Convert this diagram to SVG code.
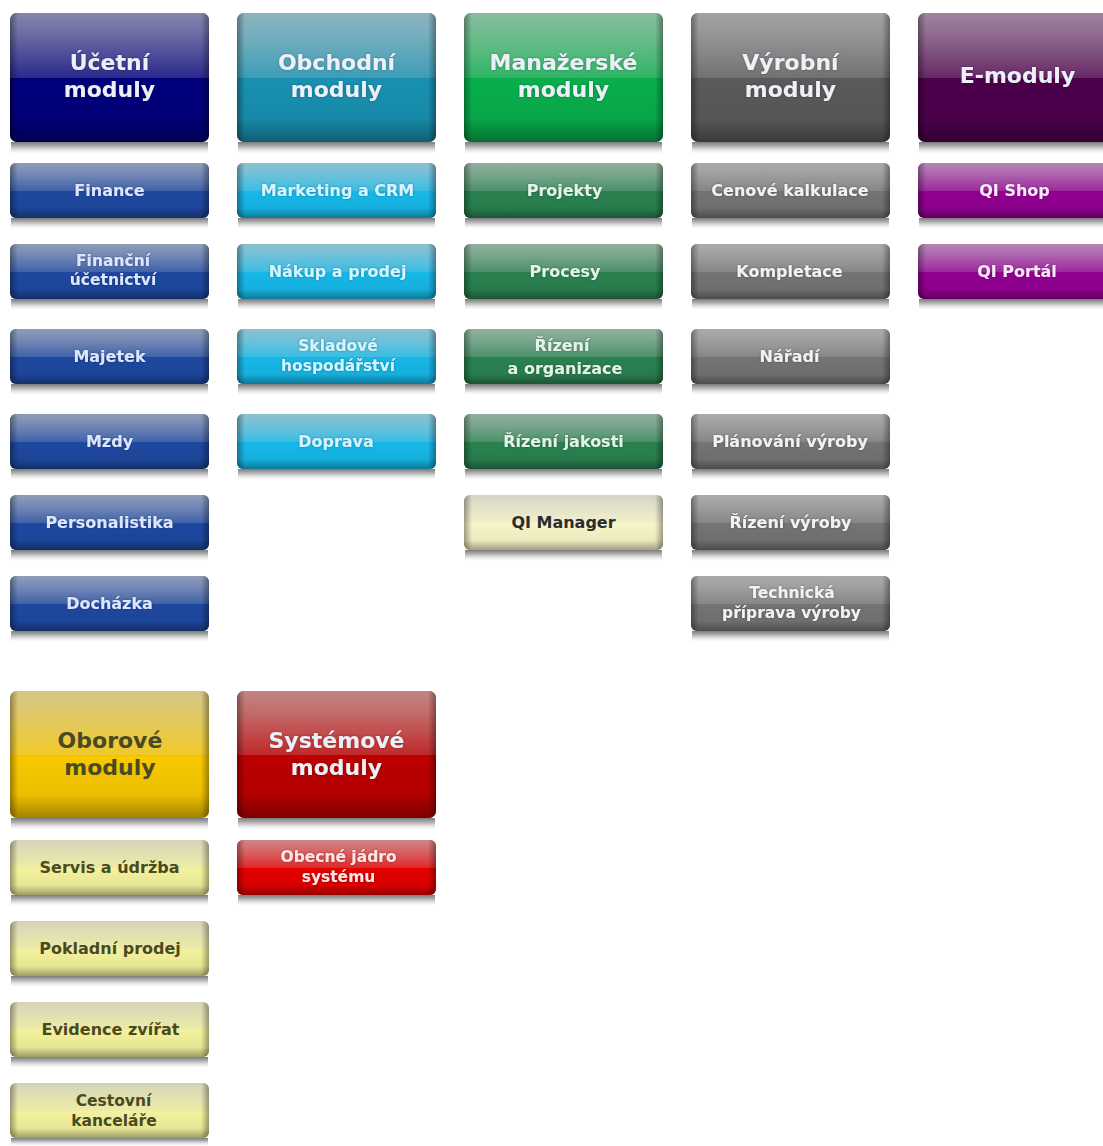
<svg xmlns="http://www.w3.org/2000/svg" width="1103" height="1146" viewBox="0 0 1103 1146">
<defs>
<linearGradient id="gloss" x1="0" y1="0" x2="0" y2="1">
<stop offset="0" stop-color="#c4c4c4" stop-opacity="0.68"/>
<stop offset="0.15" stop-color="#c8c8c8" stop-opacity="0.55"/>
<stop offset="0.5" stop-color="#d0d0d0" stop-opacity="0.2"/>
<stop offset="0.51" stop-color="#000" stop-opacity="0"/>
<stop offset="0.82" stop-color="#000" stop-opacity="0.05"/>
<stop offset="1" stop-color="#000" stop-opacity="0.35"/>
</linearGradient>
<linearGradient id="edge" x1="0" y1="0" x2="1" y2="0">
<stop offset="0" stop-color="#000" stop-opacity="0.35"/>
<stop offset="0.04" stop-color="#000" stop-opacity="0"/>
<stop offset="0.96" stop-color="#000" stop-opacity="0"/>
<stop offset="1" stop-color="#000" stop-opacity="0.35"/>
</linearGradient>
<linearGradient id="refl" x1="0" y1="0" x2="0" y2="1">
<stop offset="0" stop-color="#7a7a7a" stop-opacity="1"/>
<stop offset="0.35" stop-color="#a0a0a0" stop-opacity="0.85"/>
<stop offset="1" stop-color="#e0e0e0" stop-opacity="0"/>
</linearGradient>
<filter id="glow" x="-10%" y="-30%" width="120%" height="160%">
<feGaussianBlur in="SourceAlpha" stdDeviation="1.2" result="b"/>
<feFlood flood-color="#000" flood-opacity="0.35"/>
<feComposite in2="b" operator="in" result="s"/>
<feMerge><feMergeNode in="s"/><feMergeNode in="SourceGraphic"/></feMerge>
</filter>
</defs>
<style>
text{font-family:"DejaVu Sans",Verdana,sans-serif;font-weight:bold;text-anchor:middle}
.h{font-size:22px;fill:#eef0f8;filter:url(#glow)}
.s{font-size:16px}
.t{font-size:15.5px}
.g{fill:url(#gloss)}
.e{fill:url(#edge)}
.r{fill:url(#refl)}
.navyH{fill:#00007c}
.blue{fill:#1e48a0}
.tealH{fill:#1890b0}
.cyan{fill:#16b8e8}
.greenH{fill:#08ae4c}
.green{fill:#2a8250}
.grayH{fill:#5a5a5a}
.gray{fill:#747474}
.purpH{fill:#4c004c}
.purp{fill:#920092}
.yelH{fill:#f8c800}
.yel{fill:#f4f29c}
.redH{fill:#bc0000}
.red{fill:#e40000}
.tb{fill:#dde6ff;filter:url(#glow)}
.tc{fill:#d4f4ff;filter:url(#glow)}
.tg{fill:#e4f2e8;filter:url(#glow)}
.tgr{fill:#f2f2f2;filter:url(#glow)}
.tp{fill:#f8e8f8;filter:url(#glow)}
.ty{fill:#4a4a22}
.tr{fill:#ffe6e6;filter:url(#glow)}
</style>

<g id="hdr-ucetni">
<rect class="r" x="11" y="142" width="197" height="12"/>
<rect class="navyH" x="10" y="13" width="199" height="129" rx="7"/>
<rect class="g" x="10" y="13" width="199" height="129" rx="7"/>
<rect class="e" x="10" y="13" width="199" height="129" rx="7"/>
<text class="h" x="109.5" y="70">Účetní</text>
<text class="h" x="109.5" y="97">moduly</text>
</g>
<g id="hdr-obchodni">
<rect class="r" x="238" y="142" width="197" height="12"/>
<rect class="tealH" x="237" y="13" width="199" height="129" rx="7"/>
<rect class="g" x="237" y="13" width="199" height="129" rx="7"/>
<rect class="e" x="237" y="13" width="199" height="129" rx="7"/>
<text class="h" x="336.5" y="70">Obchodní</text>
<text class="h" x="336.5" y="97">moduly</text>
</g>
<g id="hdr-manazerske">
<rect class="r" x="465" y="142" width="197" height="12"/>
<rect class="greenH" x="464" y="13" width="199" height="129" rx="7"/>
<rect class="g" x="464" y="13" width="199" height="129" rx="7"/>
<rect class="e" x="464" y="13" width="199" height="129" rx="7"/>
<text class="h" x="563.5" y="70">Manažerské</text>
<text class="h" x="563.5" y="97">moduly</text>
</g>
<g id="hdr-vyrobni">
<rect class="r" x="692" y="142" width="197" height="12"/>
<rect class="grayH" x="691" y="13" width="199" height="129" rx="7"/>
<rect class="g" x="691" y="13" width="199" height="129" rx="7"/>
<rect class="e" x="691" y="13" width="199" height="129" rx="7"/>
<text class="h" x="790.5" y="70">Výrobní</text>
<text class="h" x="790.5" y="97">moduly</text>
</g>
<g id="hdr-emoduly">
<rect class="r" x="919" y="142" width="197" height="12"/>
<rect class="purpH" x="918" y="13" width="199" height="129" rx="7"/>
<rect class="g" x="918" y="13" width="199" height="129" rx="7"/>
<rect class="e" x="918" y="13" width="199" height="129" rx="7"/>
<text class="h" x="1017.5" y="83">E-moduly</text>
</g>

<!-- column 1 -->
<g id="n-finance">
<rect class="r" x="11" y="218" width="197" height="11"/>
<rect class="blue" x="10" y="163" width="199" height="55" rx="6"/>
<rect class="g" x="10" y="163" width="199" height="55" rx="6"/>
<rect class="e" x="10" y="163" width="199" height="55" rx="6"/>
<text class="s tb" x="109.5" y="196">Finance</text>
</g>
<g id="n-financni-ucetnictvi">
<rect class="r" x="11" y="299" width="197" height="11"/>
<rect class="blue" x="10" y="244" width="199" height="55" rx="6"/>
<rect class="g" x="10" y="244" width="199" height="55" rx="6"/>
<rect class="e" x="10" y="244" width="199" height="55" rx="6"/>
<text class="t tb" x="113" y="266">Finanční</text>
<text class="t tb" x="113" y="285">účetnictví</text>
</g>
<g id="n-majetek">
<rect class="r" x="11" y="384" width="197" height="11"/>
<rect class="blue" x="10" y="329" width="199" height="55" rx="6"/>
<rect class="g" x="10" y="329" width="199" height="55" rx="6"/>
<rect class="e" x="10" y="329" width="199" height="55" rx="6"/>
<text class="s tb" x="109.5" y="362">Majetek</text>
</g>
<g id="n-mzdy">
<rect class="r" x="11" y="469" width="197" height="11"/>
<rect class="blue" x="10" y="414" width="199" height="55" rx="6"/>
<rect class="g" x="10" y="414" width="199" height="55" rx="6"/>
<rect class="e" x="10" y="414" width="199" height="55" rx="6"/>
<text class="s tb" x="109.5" y="447">Mzdy</text>
</g>
<g id="n-personalistika">
<rect class="r" x="11" y="550" width="197" height="11"/>
<rect class="blue" x="10" y="495" width="199" height="55" rx="6"/>
<rect class="g" x="10" y="495" width="199" height="55" rx="6"/>
<rect class="e" x="10" y="495" width="199" height="55" rx="6"/>
<text class="s tb" x="109.5" y="528">Personalistika</text>
</g>
<g id="n-dochazka">
<rect class="r" x="11" y="631" width="197" height="11"/>
<rect class="blue" x="10" y="576" width="199" height="55" rx="6"/>
<rect class="g" x="10" y="576" width="199" height="55" rx="6"/>
<rect class="e" x="10" y="576" width="199" height="55" rx="6"/>
<text class="s tb" x="109.5" y="609">Docházka</text>
</g>

<!-- column 2 -->
<g id="n-marketing">
<rect class="r" x="238" y="218" width="197" height="11"/>
<rect class="cyan" x="237" y="163" width="199" height="55" rx="6"/>
<rect class="g" x="237" y="163" width="199" height="55" rx="6"/>
<rect class="e" x="237" y="163" width="199" height="55" rx="6"/>
<text class="s tc" x="337.5" y="196" font-size="15.5">Marketing a CRM</text>
</g>
<g id="n-nakup">
<rect class="r" x="238" y="299" width="197" height="11"/>
<rect class="cyan" x="237" y="244" width="199" height="55" rx="6"/>
<rect class="g" x="237" y="244" width="199" height="55" rx="6"/>
<rect class="e" x="237" y="244" width="199" height="55" rx="6"/>
<text class="s tc" x="337.5" y="277">Nákup a prodej</text>
</g>
<g id="n-skladove">
<rect class="r" x="238" y="384" width="197" height="11"/>
<rect class="cyan" x="237" y="329" width="199" height="55" rx="6"/>
<rect class="g" x="237" y="329" width="199" height="55" rx="6"/>
<rect class="e" x="237" y="329" width="199" height="55" rx="6"/>
<text class="t tc" x="338" y="351">Skladové</text>
<text class="t tc" x="338" y="371">hospodářství</text>
</g>
<g id="n-doprava">
<rect class="r" x="238" y="469" width="197" height="11"/>
<rect class="cyan" x="237" y="414" width="199" height="55" rx="6"/>
<rect class="g" x="237" y="414" width="199" height="55" rx="6"/>
<rect class="e" x="237" y="414" width="199" height="55" rx="6"/>
<text class="s tc" x="336" y="447">Doprava</text>
</g>

<!-- column 3 -->
<g id="n-projekty">
<rect class="r" x="465" y="218" width="197" height="11"/>
<rect class="green" x="464" y="163" width="199" height="55" rx="6"/>
<rect class="g" x="464" y="163" width="199" height="55" rx="6"/>
<rect class="e" x="464" y="163" width="199" height="55" rx="6"/>
<text class="s tg" x="564.5" y="196">Projekty</text>
</g>
<g id="n-procesy">
<rect class="r" x="465" y="299" width="197" height="11"/>
<rect class="green" x="464" y="244" width="199" height="55" rx="6"/>
<rect class="g" x="464" y="244" width="199" height="55" rx="6"/>
<rect class="e" x="464" y="244" width="199" height="55" rx="6"/>
<text class="s tg" x="565" y="277">Procesy</text>
</g>
<g id="n-rizeni-organizace">
<rect class="r" x="465" y="384" width="197" height="11"/>
<rect class="green" x="464" y="329" width="199" height="55" rx="6"/>
<rect class="g" x="464" y="329" width="199" height="55" rx="6"/>
<rect class="e" x="464" y="329" width="199" height="55" rx="6"/>
<text class="s tg" x="562" y="351">Řízení</text>
<text class="s tg" x="565" y="374">a organizace</text>
</g>
<g id="n-rizeni-jakosti">
<rect class="r" x="465" y="469" width="197" height="11"/>
<rect class="green" x="464" y="414" width="199" height="55" rx="6"/>
<rect class="g" x="464" y="414" width="199" height="55" rx="6"/>
<rect class="e" x="464" y="414" width="199" height="55" rx="6"/>
<text class="s tg" x="563.5" y="447">Řízení jakosti</text>
</g>
<g id="n-qi-manager">
<rect class="r" x="465" y="550" width="197" height="11"/>
<rect fill="#f8f6c8" x="464" y="495" width="199" height="55" rx="6"/>
<rect class="g" x="464" y="495" width="199" height="55" rx="6"/>
<rect class="e" x="464" y="495" width="199" height="55" rx="6"/>
<text class="s" fill="#2c2c30" x="563.5" y="528">QI Manager</text>
</g>

<!-- column 4 -->
<g id="n-cenove">
<rect class="r" x="692" y="218" width="197" height="11"/>
<rect class="gray" x="691" y="163" width="199" height="55" rx="6"/>
<rect class="g" x="691" y="163" width="199" height="55" rx="6"/>
<rect class="e" x="691" y="163" width="199" height="55" rx="6"/>
<text class="s tgr" x="790" y="196">Cenové kalkulace</text>
</g>
<g id="n-kompletace">
<rect class="r" x="692" y="299" width="197" height="11"/>
<rect class="gray" x="691" y="244" width="199" height="55" rx="6"/>
<rect class="g" x="691" y="244" width="199" height="55" rx="6"/>
<rect class="e" x="691" y="244" width="199" height="55" rx="6"/>
<text class="s tgr" x="789.5" y="277">Kompletace</text>
</g>
<g id="n-naradi">
<rect class="r" x="692" y="384" width="197" height="11"/>
<rect class="gray" x="691" y="329" width="199" height="55" rx="6"/>
<rect class="g" x="691" y="329" width="199" height="55" rx="6"/>
<rect class="e" x="691" y="329" width="199" height="55" rx="6"/>
<text class="s tgr" x="789.5" y="362">Nářadí</text>
</g>
<g id="n-planovani">
<rect class="r" x="692" y="469" width="197" height="11"/>
<rect class="gray" x="691" y="414" width="199" height="55" rx="6"/>
<rect class="g" x="691" y="414" width="199" height="55" rx="6"/>
<rect class="e" x="691" y="414" width="199" height="55" rx="6"/>
<text class="s tgr" x="790" y="447">Plánování výroby</text>
</g>
<g id="n-rizeni-vyroby">
<rect class="r" x="692" y="550" width="197" height="11"/>
<rect class="gray" x="691" y="495" width="199" height="55" rx="6"/>
<rect class="g" x="691" y="495" width="199" height="55" rx="6"/>
<rect class="e" x="691" y="495" width="199" height="55" rx="6"/>
<text class="s tgr" x="790.5" y="528">Řízení výroby</text>
</g>
<g id="n-technicka">
<rect class="r" x="692" y="631" width="197" height="11"/>
<rect class="gray" x="691" y="576" width="199" height="55" rx="6"/>
<rect class="g" x="691" y="576" width="199" height="55" rx="6"/>
<rect class="e" x="691" y="576" width="199" height="55" rx="6"/>
<text class="t tgr" x="792" y="598">Technická</text>
<text class="t tgr" x="791.5" y="618">příprava výroby</text>
</g>

<!-- column 5 -->
<g id="n-qi-shop">
<rect class="r" x="919" y="218" width="197" height="11"/>
<rect class="purp" x="918" y="163" width="199" height="55" rx="6"/>
<rect class="g" x="918" y="163" width="199" height="55" rx="6"/>
<rect class="e" x="918" y="163" width="199" height="55" rx="6"/>
<text class="s tp" x="1014.5" y="196">QI Shop</text>
</g>
<g id="n-qi-portal">
<rect class="r" x="919" y="299" width="197" height="11"/>
<rect class="purp" x="918" y="244" width="199" height="55" rx="6"/>
<rect class="g" x="918" y="244" width="199" height="55" rx="6"/>
<rect class="e" x="918" y="244" width="199" height="55" rx="6"/>
<text class="s tp" x="1017" y="277">QI Portál</text>
</g>

<!-- bottom section -->
<g id="hdr-oborove">
<rect class="r" x="11" y="818" width="197" height="12"/>
<rect class="yelH" x="10" y="691" width="199" height="127" rx="7"/>
<rect class="g" x="10" y="691" width="199" height="127" rx="7"/>
<rect class="e" x="10" y="691" width="199" height="127" rx="7"/>
<text x="110" y="748" style="font-size:22px;fill:#4a4a22">Oborové</text>
<text x="110" y="775" style="font-size:22px;fill:#4a4a22">moduly</text>
</g>
<g id="hdr-systemove">
<rect class="r" x="238" y="818" width="197" height="12"/>
<rect class="redH" x="237" y="691" width="199" height="127" rx="7"/>
<rect class="g" x="237" y="691" width="199" height="127" rx="7"/>
<rect class="e" x="237" y="691" width="199" height="127" rx="7"/>
<text class="h" x="336.5" y="748">Systémové</text>
<text class="h" x="336.5" y="775">moduly</text>
</g>
<g id="n-servis">
<rect class="r" x="11" y="895" width="197" height="11"/>
<rect class="yel" x="10" y="840" width="199" height="55" rx="6"/>
<rect class="g" x="10" y="840" width="199" height="55" rx="6"/>
<rect class="e" x="10" y="840" width="199" height="55" rx="6"/>
<text class="s ty" x="109.5" y="873">Servis a údržba</text>
</g>
<g id="n-pokladni">
<rect class="r" x="11" y="976" width="197" height="11"/>
<rect class="yel" x="10" y="921" width="199" height="55" rx="6"/>
<rect class="g" x="10" y="921" width="199" height="55" rx="6"/>
<rect class="e" x="10" y="921" width="199" height="55" rx="6"/>
<text class="s ty" x="110" y="954">Pokladní prodej</text>
</g>
<g id="n-evidence">
<rect class="r" x="11" y="1057" width="197" height="11"/>
<rect class="yel" x="10" y="1002" width="199" height="55" rx="6"/>
<rect class="g" x="10" y="1002" width="199" height="55" rx="6"/>
<rect class="e" x="10" y="1002" width="199" height="55" rx="6"/>
<text class="s ty" x="110.5" y="1035">Evidence zvířat</text>
</g>
<g id="n-cestovni">
<rect class="r" x="11" y="1138" width="197" height="8"/>
<rect class="yel" x="10" y="1083" width="199" height="55" rx="6"/>
<rect class="g" x="10" y="1083" width="199" height="55" rx="6"/>
<rect class="e" x="10" y="1083" width="199" height="55" rx="6"/>
<text class="t ty" x="113.5" y="1106">Cestovní</text>
<text class="t ty" x="114" y="1126">kanceláře</text>
</g>
<g id="n-obecne-jadro">
<rect class="r" x="238" y="895" width="197" height="11"/>
<rect class="red" x="237" y="840" width="199" height="55" rx="6"/>
<rect class="g" x="237" y="840" width="199" height="55" rx="6"/>
<rect class="e" x="237" y="840" width="199" height="55" rx="6"/>
<text class="t tr" x="338.5" y="862">Obecné jádro</text>
<text class="t tr" x="338.5" y="882">systému</text>
</g>

<g id="connectors"></g>
</svg>
